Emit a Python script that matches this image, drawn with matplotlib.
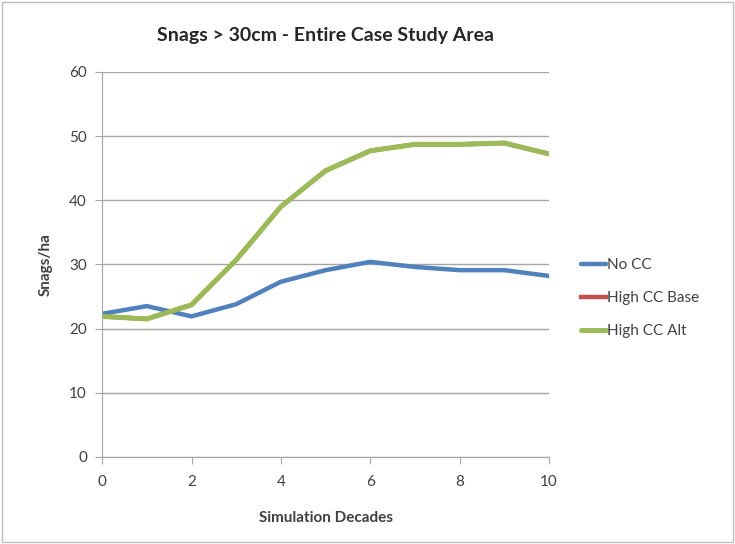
import numpy as np
import matplotlib.pyplot as plt

# data
decades = list(range(0, 11))
no_cc = [22.3, 23.5, 21.9, 23.8, 27.3, 29.1, 30.4, 29.6, 29.1, 29.1, 28.2]
high_cc_base = [21.9, 21.5, 23.7, 30.7, 39.0, 44.6, 47.7, 48.7, 48.7, 48.9, 47.2]
high_cc_alt = [21.9, 21.5, 23.7, 30.7, 39.0, 44.6, 47.7, 48.7, 48.7, 48.9, 47.2]

plt.rcParams['font.family'] = ['Lato', 'DejaVu Sans']

fig = plt.figure(figsize=(7.35, 5.44), dpi=100)
ax = fig.add_axes([0.139, 0.16, 0.608, 0.708])

ax.plot(decades, no_cc, color='#4F81BD', lw=3.2, label='No CC', solid_capstyle='round')
ax.plot(decades, high_cc_base, color='#C0504D', lw=3.2, label='High CC Base')
ax.plot(decades, high_cc_alt, color='#9BBB59', lw=3.6, label='High CC Alt', solid_capstyle='round')

ax.set_xlim(0, 10)
ax.set_ylim(0, 60)
ax.set_xticks(range(0, 11, 2))
ax.set_yticks(range(0, 61, 10))
ax.grid(axis='y', color='#A6A6A6', lw=1)
ax.set_axisbelow(True)
for s in ['top', 'right']:
    ax.spines[s].set_visible(False)
for s in ['left', 'bottom']:
    ax.spines[s].set_color('#A6A6A6')
ax.tick_params(colors='#A6A6A6', labelcolor='#404040', labelsize=11, length=5, direction='out')
ax.tick_params(axis='x', pad=8)
ax.tick_params(axis='y', pad=6)

ax.set_xlabel('Simulation Decades', fontsize=11, fontweight='bold', color='#404040', labelpad=16)
ax.set_ylabel('Snags/ha', fontsize=11, fontweight='bold', color='#404040', labelpad=12)
ax.set_title('Snags > 30cm - Entire Case Study Area', fontsize=14, fontweight='bold',
             color='#262626', pad=22)

leg = fig.legend(loc='center left', bbox_to_anchor=(0.772, 0.452), frameon=False,
                 fontsize=11, handlelength=1.6, handletextpad=0.1, labelspacing=1.25,
                 labelcolor='#404040')

fig.patches.append(plt.Rectangle((0.003, 0.003), 0.994, 0.994, transform=fig.transFigure,
                                 fill=False, edgecolor='#BFBFBF', lw=1))

fig.savefig('out.png', dpi=100)
